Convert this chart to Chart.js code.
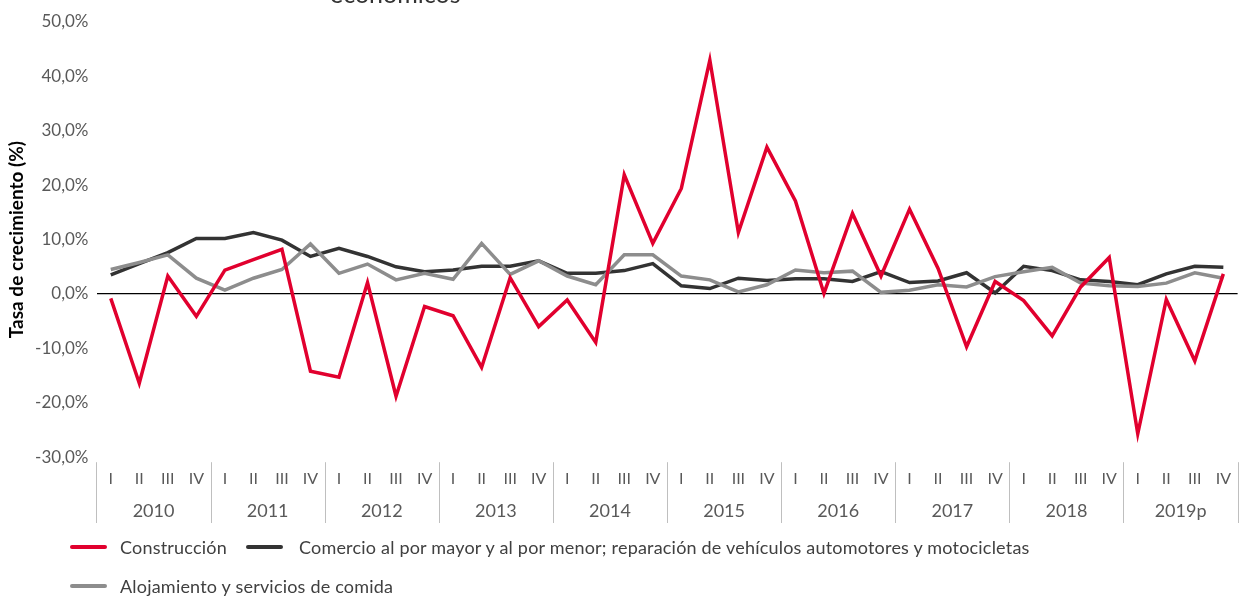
<!DOCTYPE html>
<html>
<head>
<meta charset="utf-8">
<script src="https://cdn.jsdelivr.net/npm/chart.js@4.4.1/dist/chart.umd.min.js"></script>
<style>
  html, body { margin: 0; padding: 0; background: #ffffff; }
  #wrap { position: relative; width: 1243px; height: 596px; overflow: hidden; }
  #chart { position: absolute; left: 0; top: 0; }
  .legend { position: absolute; left: 70px; font-family: 'Lato', sans-serif; font-size: 18px; letter-spacing: 0.2px; color: #404040; display: flex; align-items: center; white-space: nowrap; }
  .legend .item { display: flex; align-items: center; margin-right: 19px; }
  .legend .swatch { display: inline-block; width: 37px; height: 4px; border-radius: 2px; margin-right: 13px; }
  .legend .item.wide .swatch { margin-right: 16px; }
</style>
</head>
<body>
<div id="wrap">
  <canvas id="chart" width="1243" height="596"></canvas>
  <div class="legend" id="legendRow1" style="top:536px;"></div>
  <div class="legend" id="legendRow2" style="top:575px;"></div>
</div>
<script>
// ---- Data ----
const years = ['2010', '2011', '2012', '2013', '2014', '2015', '2016', '2017', '2018', '2019p'];
const quarters = [
  'I','II','III','IV', 'I','II','III','IV', 'I','II','III','IV', 'I','II','III','IV', 'I','II','III','IV',
  'I','II','III','IV', 'I','II','III','IV', 'I','II','III','IV', 'I','II','III','IV', 'I','II','III','IV'
];
const construccion = [-0.8, -16.4, 3.3, -4.1, 4.4, 6.3, 8.2, -14.2, -15.3, 2.1,
  -18.8, -2.3, -4.0, -13.5, 3.0, -6.0, -1.1, -8.9, 21.9, 9.3,
  19.4, 43.0, 11.3, 27.0, 17.1, 0.1, 14.8, 3.3, 15.6, 4.7,
  -9.7, 2.3, -1.2, -7.7, 1.3, 6.7, -25.7, -1.0, -12.3, 3.7];
const comercio = [3.5, 5.6, 7.6, 10.2, 10.2, 11.3, 9.9, 6.9, 8.4, 6.9,
  5.0, 4.1, 4.4, 5.1, 5.1, 6.1, 3.8, 3.8, 4.3, 5.6,
  1.5, 1.0, 2.9, 2.5, 2.8, 2.8, 2.3, 4.1, 2.1, 2.4,
  3.9, 0.2, 5.1, 4.3, 2.6, 2.3, 1.7, 3.7, 5.1, 4.9];
const alojamiento = [4.5, 5.8, 7.2, 2.9, 0.7, 2.9, 4.5, 9.2, 3.8, 5.5,
  2.6, 3.8, 2.7, 9.3, 3.6, 6.1, 3.3, 1.7, 7.2, 7.2,
  3.3, 2.6, 0.4, 1.7, 4.4, 3.9, 4.2, 0.3, 0.7, 1.7,
  1.3, 3.2, 4.1, 4.9, 2.0, 1.5, 1.4, 2.0, 3.9, 2.9];
const seriesNames = [
  'Construcción',
  'Comercio al por mayor y al por menor; reparación de vehículos automotores y motocicletas',
  'Alojamiento y servicios de comida'
];
const seriesColors = ['#E1002E', '#333333', '#8D8D8D'];
const yTicks = [50, 40, 30, 20, 10, 0, -10, -20, -30];
const titleFragment = 'económicos';

const FONT = 'Lato';

// partial (cut-off) title at the top, as in the reference
const topTitle = {
  id: 'topTitle',
  afterDraw(chart) {
    const c = chart.ctx;
    c.save();
    c.font = '25px ' + FONT;
    c.fillStyle = '#333333';
    c.textBaseline = 'alphabetic';
    c.textAlign = 'left';
    c.fillText(titleFragment, 330, 3);
    c.restore();
  }
};

// year separators: vertical lines at the year boundaries of the year scale
const yearSeparators = {
  id: 'yearSeparators',
  afterDraw(chart) {
    const s = chart.scales.x2;
    const area = chart.chartArea;
    const c = chart.ctx;
    const n = s.ticks.length;
    const half = (s.getPixelForTick(1) - s.getPixelForTick(0)) / 2;
    c.save();
    c.strokeStyle = '#BFBFBF';
    c.lineWidth = 1;
    for (let i = 0; i <= n; i++) {
      const px = Math.round((i < n ? s.getPixelForTick(i) - half : s.getPixelForTick(n - 1) + half)) + 0.5;
      c.beginPath();
      c.moveTo(px, area.bottom + 5);
      c.lineTo(px, s.bottom + 1);
      c.stroke();
    }
    c.restore();
  }
};

const chart = new Chart(document.getElementById('chart'), {
  type: 'line',
  data: {
    labels: quarters,
    datasets: [
      { label: seriesNames[0], data: construccion, borderColor: seriesColors[0], backgroundColor: seriesColors[0], order: 0 },
      { label: seriesNames[1], data: comercio, borderColor: seriesColors[1], backgroundColor: seriesColors[1], order: 2 },
      { label: seriesNames[2], data: alojamiento, borderColor: seriesColors[2], backgroundColor: seriesColors[2], order: 1 }
    ]
  },
  options: {
    responsive: false,
    animation: false,
    devicePixelRatio: 1,
    layout: { padding: { left: 5, right: 0, top: 22, bottom: 74 } },
    elements: {
      line: { borderWidth: 3.5, tension: 0, borderCapStyle: 'butt', borderJoinStyle: 'miter' },
      point: { radius: 0, hoverRadius: 0 }
    },
    plugins: {
      legend: { display: false },
      tooltip: { enabled: false }
    },
    scales: {
      y: {
        min: -30, max: 50,
        afterBuildTicks(scale) { scale.ticks = yTicks.map(v => ({ value: v })); },
        afterFit(scale) { scale.width = 91.5; },
        border: { display: false },
        grid: {
          drawTicks: false,
          lineWidth: 1.3,
          color: (ctx) => (ctx.tick && ctx.tick.value === 0) ? '#000000' : 'rgba(0,0,0,0)'
        },
        ticks: {
          padding: 8,
          color: '#595959',
          font: { family: FONT, size: 17 },
          callback: (v) => v.toFixed(1).replace('.', ',') + '%'
        },
        title: {
          display: true,
          text: 'Tasa de crecimiento (%)',
          color: '#000000',
          font: { family: FONT, size: 19, weight: 'bold' },
          padding: { top: 0, bottom: 2 }
        }
      },
      x: {
        type: 'category',
        position: 'bottom',
        offset: true,
        border: { display: false },
        grid: { display: false, drawTicks: false },
        ticks: {
          autoSkip: false, maxRotation: 0, minRotation: 0,
          padding: 12,
          color: '#595959',
          font: { family: FONT, size: 16 }
        }
      },
      x2: {
        type: 'category',
        position: 'bottom',
        labels: years,
        offset: true,
        border: { display: false },
        grid: { display: false, drawTicks: false },
        ticks: {
          autoSkip: false, maxRotation: 0, minRotation: 0,
          padding: 0,
          color: '#595959',
          font: { family: FONT, size: 18 }
        }
      }
    }
  },
  plugins: [topTitle, yearSeparators]
});

// HTML legend built from the dataset names/colours
function legendItem(i) {
  const d = document.createElement('span');
  d.className = 'item' + (i === 1 ? ' wide' : '');
  const s = document.createElement('span');
  s.className = 'swatch';
  s.style.background = seriesColors[i];
  const t = document.createElement('span');
  t.textContent = seriesNames[i];
  d.appendChild(s); d.appendChild(t);
  return d;
}
document.getElementById('legendRow1').appendChild(legendItem(0));
document.getElementById('legendRow1').appendChild(legendItem(1));
document.getElementById('legendRow2').appendChild(legendItem(2));
</script>
</body>
</html>
